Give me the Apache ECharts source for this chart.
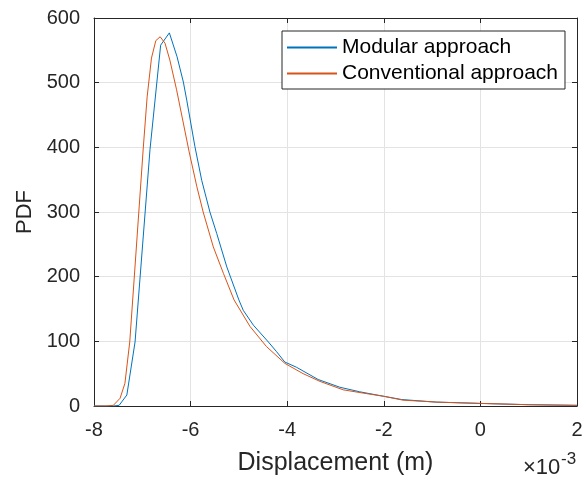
<!DOCTYPE html>
<html>
<head>
<meta charset="utf-8">
<script src="https://cdn.jsdelivr.net/npm/echarts@6/dist/echarts.min.js"></script>
<style>html,body{margin:0;padding:0;background:#fff}#c{width:586px;height:486px}</style>
</head>
<body>
<div id="c"></div>
<script>
// Displacement values are in units of 1e-3 m
var modularX = [-8, -7.6, -7.48, -7.32, -7.15, -7.05, -6.84, -6.62, -6.44, -6.28, -6.15, -6.08, -5.91, -5.77, -5.6, -5.46, -5.25, -5.0, -4.91, -4.7, -4.39, -4.22, -4.05, -3.81, -3.36, -2.91, -2.5, -2.0, -1.63, -0.91, 0, 1, 2];
var modularY = [0, 0, 1, 17, 99, 195, 397, 558, 577, 540, 501, 473, 401, 349, 300, 267, 215, 164, 148, 125, 99, 84, 68, 60, 41, 29, 22, 15, 10, 6, 4, 2, 1];
var convX = [-8, -7.74, -7.6, -7.46, -7.36, -7.26, -7.17, -6.98, -6.9, -6.81, -6.72, -6.63, -6.53, -6.43, -6.29, -6.03, -5.87, -5.74, -5.53, -5.32, -5.1, -4.77, -4.43, -4.05, -3.67, -3.32, -2.84, -2.43, -2.0, -1.6, -0.9, 0, 1, 2];
var convY = [0, 0, 1, 12, 35, 99, 195, 399, 478, 538, 565, 571, 561, 535, 489, 393, 339, 300, 246, 205, 164, 123, 92, 66, 50, 38, 25, 20, 15, 9, 6, 4, 2, 1];
var xTicks = [-8, -6, -4, -2, 0, 2];
var yTicks = [0, 100, 200, 300, 400, 500, 600];
var seriesNames = ['Modular approach', 'Conventional approach'];

function pairs(xs, ys) { return xs.map(function (x, i) { return [x, ys[i]]; }); }

var FONT = 'Liberation Sans, Arial, Helvetica, sans-serif';
var AX = '#262626';
var chart = echarts.init(document.getElementById('c'), null, {renderer: 'canvas'});
chart.setOption({
  animation: false,
  backgroundColor: '#fff',
  grid: {left: 94, right: 9, top: 18, bottom: 80, show: false},
  legend: {
    orient: 'vertical', left: 282, top: 31,
    padding: [6, 7, 5, 5], itemGap: 5,
    itemWidth: 50, itemHeight: 2, icon: 'rect',
    borderColor: AX, borderWidth: 1, borderRadius: 0, backgroundColor: '#fff',
    textStyle: {fontFamily: FONT, fontSize: 21, color: '#000'},
    data: seriesNames
  },
  xAxis: [{
    type: 'value', min: xTicks[0], max: xTicks[xTicks.length - 1], interval: 2,
    axisLine: {show: true, onZero: false, lineStyle: {color: AX}},
    axisTick: {show: true, inside: true, length: 5, lineStyle: {color: AX}},
    axisLabel: {fontFamily: FONT, fontSize: 20, color: AX, margin: 14},
    splitLine: {show: true, lineStyle: {color: '#e3e3e3', width: 1}},
    name: 'Displacement (m)', nameLocation: 'middle', nameGap: 45,
    nameTextStyle: {fontFamily: FONT, fontSize: 25, color: AX}
  }, {
    type: 'value', position: 'top', min: xTicks[0], max: xTicks[xTicks.length - 1], interval: 2,
    axisLine: {show: true, onZero: false, lineStyle: {color: AX}},
    axisTick: {show: true, inside: true, length: 5, lineStyle: {color: AX}},
    axisLabel: {show: false}, splitLine: {show: false}
  }],
  yAxis: [{
    type: 'value', min: yTicks[0], max: yTicks[yTicks.length - 1], interval: 100,
    axisLine: {show: true, onZero: false, lineStyle: {color: AX}},
    axisTick: {show: true, inside: true, length: 5, lineStyle: {color: AX}},
    axisLabel: {fontFamily: FONT, fontSize: 20, color: AX, margin: 14},
    splitLine: {show: true, lineStyle: {color: '#e3e3e3', width: 1}},
    name: 'PDF', nameLocation: 'middle', nameGap: 58, nameRotate: 90,
    nameTextStyle: {fontFamily: FONT, fontSize: 22, color: AX}
  }, {
    type: 'value', position: 'right', min: yTicks[0], max: yTicks[yTicks.length - 1], interval: 100,
    axisLine: {show: true, onZero: false, lineStyle: {color: AX}},
    axisTick: {show: true, inside: true, length: 5, lineStyle: {color: AX}},
    axisLabel: {show: false}, splitLine: {show: false}
  }],
  graphic: [
    {type: 'text', left: 523, top: 457, style: {text: '×10', font: '22px ' + FONT, fill: AX}},
    {type: 'text', left: 561, top: 451, style: {text: '-3', font: '17px ' + FONT, fill: AX}}
  ],
  series: [{
    name: seriesNames[0], type: 'line', data: pairs(modularX, modularY),
    showSymbol: false, symbol: 'none', color: '#0072BD',
    lineStyle: {width: 1, color: '#0072BD'}, z: 3
  }, {
    name: seriesNames[1], type: 'line', data: pairs(convX, convY),
    showSymbol: false, symbol: 'none', color: '#D95319',
    lineStyle: {width: 1, color: '#D95319'}, z: 4
  }]
});
</script>
</body>
</html>
